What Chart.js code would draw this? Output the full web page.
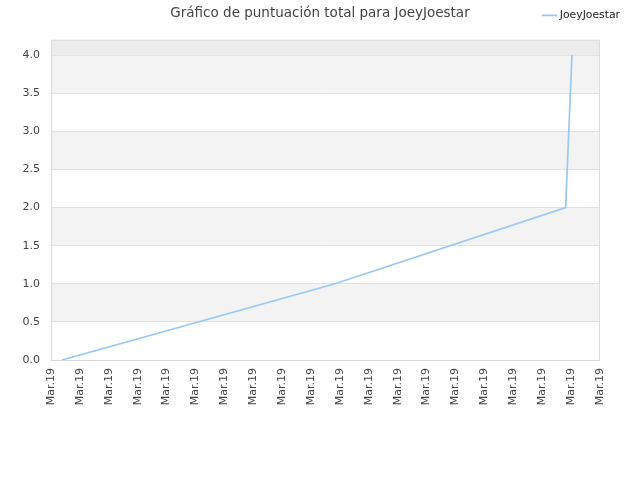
<!DOCTYPE html>
<html>
<head>
<meta charset="utf-8">
<script src="https://cdn.jsdelivr.net/npm/chart.js@4"></script>
<style>
html,body{margin:0;padding:0;background:#fff;}
#wrap{width:640px;height:480px;}
</style>
</head>
<body>
<div id="wrap"><canvas id="c" width="640" height="480"></canvas></div>
<script>
const chartTitle = 'Gráfico de puntuación total para JoeyJoestar';
const seriesName = 'JoeyJoestar';
const xTickLabels = ['Mar.19','Mar.19','Mar.19','Mar.19','Mar.19','Mar.19','Mar.19','Mar.19','Mar.19','Mar.19',
                     'Mar.19','Mar.19','Mar.19','Mar.19','Mar.19','Mar.19','Mar.19','Mar.19','Mar.19','Mar.19'];
const xPositions = [0.38, 9.83, 17.81, 18.03];
const scores = [0, 1, 2, 4];

const points = xPositions.map((x, i) => ({x: x, y: scores[i]}));

Chart.defaults.font.family = "'DejaVu Sans', sans-serif";
Chart.defaults.color = '#444';

const bandsPlugin = {
  id: 'bands',
  beforeDraw(chart) {
    const ctx = chart.ctx, a = chart.chartArea, y = chart.scales.y;
    ctx.save();
    for (let i = 0; i < 8; i++) {
      if (i % 2 === 1) {
        const top = y.getPixelForValue((i + 1) * 0.5), bot = y.getPixelForValue(i * 0.5);
        ctx.fillStyle = '#f3f3f3';
        ctx.fillRect(a.left, top, a.right - a.left, bot - top);
      }
    }
    const t4 = y.getPixelForValue(4);
    ctx.fillStyle = '#ececec';
    ctx.fillRect(a.left, a.top, a.right - a.left, t4 - a.top);
    ctx.restore();
  },
  beforeDatasetsDraw(chart) {
    const ctx = chart.ctx, a = chart.chartArea;
    ctx.save();
    ctx.strokeStyle = '#dcdcdc';
    ctx.lineWidth = 1;
    ctx.strokeRect(a.left + 0.5, a.top + 0.5, a.right - a.left - 1, a.bottom - a.top);
    ctx.restore();
  },
  afterDraw(chart) {
    const ctx = chart.ctx;
    ctx.save();
    ctx.font = "13.5px 'DejaVu Sans', sans-serif";
    ctx.fillStyle = '#444';
    ctx.textAlign = 'center';
    ctx.textBaseline = 'middle';
    ctx.fillText(chartTitle, 320, 13);
    ctx.restore();
  }
};

new Chart(document.getElementById('c'), {
  type: 'line',
  data: {
    datasets: [{
      label: seriesName,
      data: points,
      borderColor: '#99c8f5',
      backgroundColor: '#99c8f5',
      borderWidth: 1.7,
      pointRadius: 0,
      fill: false,
      tension: 0
    }]
  },
  options: {
    responsive: false,
    animation: false,
    layout: {padding: {left: 0, right: 11, top: 1, bottom: 0}},
    plugins: {
      title: {display: false},
      tooltip: {enabled: false},
      legend: {
        display: true,
        position: 'top',
        align: 'end',
        labels: {
          usePointStyle: true,
          pointStyle: 'line',
          boxWidth: 10,
          padding: 9,
          color: '#222',
          font: {size: 10.8}
        }
      }
    },
    scales: {
      x: {
        type: 'linear',
        min: 0,
        max: 19,
        afterBuildTicks(scale) {
          scale.ticks = xTickLabels.map((l, i) => ({value: i}));
        },
        afterFit(scale) { scale.height = 120; },
        grid: {display: false, drawTicks: false},
        border: {display: false},
        ticks: {
          autoSkip: false,
          maxRotation: 90,
          minRotation: 90,
          padding: 8,
          font: {size: 11},
          color: '#444',
          callback: (v, i) => xTickLabels[i]
        }
      },
      xTop: {
        type: 'linear',
        position: 'top',
        display: true,
        afterFit(scale) { scale.height = 9; },
        grid: {display: false, drawTicks: false},
        border: {display: false},
        ticks: {display: false}
      },
      y: {
        min: 0,
        max: 4.2,
        afterBuildTicks(scale) {
          scale.ticks = scale.ticks.filter(t => t.value <= 4.0001);
        },
        afterFit(scale) { scale.width = 51; },
        grid: {color: '#e2e2e2', drawTicks: false},
        border: {display: false},
        ticks: {
          stepSize: 0.5,
          padding: 11,
          font: {size: 11},
          color: '#444',
          callback: v => v.toFixed(1)
        }
      },
      y2: {
        position: 'right',
        display: true,
        afterFit(scale) { scale.width = 29; },
        grid: {display: false, drawTicks: false},
        border: {display: false},
        ticks: {display: false}
      }
    }
  },
  plugins: [bandsPlugin]
});
</script>
</body>
</html>
